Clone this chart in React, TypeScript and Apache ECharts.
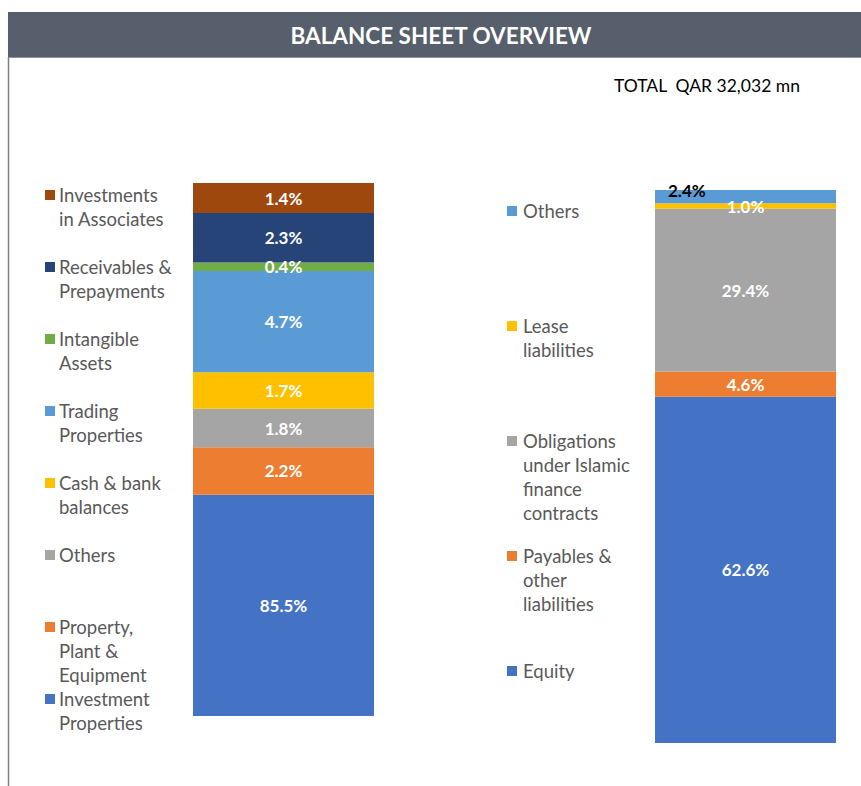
import React, { useEffect, useRef } from "react";
import * as echarts from "echarts";

// Assets (stack order bottom -> top)
const assetCategories = [
  "Investment Properties",
  "Property, Plant & Equipment",
  "Others",
  "Cash & bank balances",
  "Trading Properties",
  "Intangible Assets",
  "Receivables & Prepayments",
  "Investments in Associates",
];
const assetShares = [85.5, 2.2, 1.8, 1.7, 4.7, 0.4, 2.3, 1.4];
const assetLegendText = [
  "Investment\nProperties",
  "Property,\nPlant &\nEquipment",
  "Others",
  "Cash & bank\nbalances",
  "Trading\nProperties",
  "Intangible\nAssets",
  "Receivables &\nPrepayments",
  "Investments\nin Associates",
];
const assetColors = ["#4472C4", "#ED7D31", "#A5A5A5", "#FFC000", "#5B9BD5", "#70AD47", "#264478", "#9E480E"];

// Liabilities & equity (stack order bottom -> top)
const liabCategories = [
  "Equity",
  "Payables & other liabilities",
  "Obligations under Islamic finance contracts",
  "Lease liabilities",
  "Others",
];
const liabShares = [62.6, 4.6, 29.4, 1.0, 2.4];
const liabLegendText = [
  "Equity",
  "Payables &\nother\nliabilities",
  "Obligations\nunder Islamic\nfinance\ncontracts",
  "Lease\nliabilities",
  "Others",
];
const liabColors = ["#4472C4", "#ED7D31", "#A5A5A5", "#FFC000", "#5B9BD5"];

const titleText = "BALANCE SHEET OVERVIEW";
const totalText = "TOTAL  QAR 32,032 mn";

const FONT = "Lato, 'Open Sans', sans-serif";

export default function App() {
  const ref = useRef<HTMLDivElement>(null);

  useEffect(() => {
    if (!ref.current) return;
    const chart = echarts.init(ref.current, undefined, { renderer: "svg" });

    const labelBase = {
      show: true,
      position: "inside",
      color: "#FFFFFF",
      fontWeight: "bold",
      fontSize: 17,
      fontFamily: FONT,
      formatter: (p: any) => Number(p.value).toFixed(1) + "%",
    };

    const series: any[] = [];
    assetCategories.forEach((name, i) => {
      series.push({
        name,
        type: "bar",
        stack: "assets",
        xAxisIndex: 0,
        yAxisIndex: 0,
        barWidth: "100%",
        data: [assetShares[i]],
        itemStyle: { color: assetColors[i] },
        label: { ...labelBase },
      });
    });
    liabCategories.forEach((name, i) => {
      const isTop = i === liabCategories.length - 1;
      series.push({
        name: "L: " + name,
        type: "bar",
        stack: "liab",
        xAxisIndex: 1,
        yAxisIndex: 1,
        barWidth: "100%",
        data: [liabShares[i]],
        itemStyle: { color: liabColors[i] },
        label: isTop
          ? { ...labelBase, position: [13, -8], color: "#000000" }
          : { ...labelBase },
      });
    });

    const graphics: any[] = [
      {
        type: "rect",
        shape: { x: 8, y: 12, width: 853, height: 45 },
        style: { fill: "#565F6B" },
        silent: true,
      },
      {
        type: "line",
        shape: { x1: 8, y1: 57.5, x2: 861, y2: 57.5 },
        style: { stroke: "#8E949C", lineWidth: 1 },
      },
      {
        type: "line",
        shape: { x1: 8.5, y1: 57, x2: 8.5, y2: 786 },
        style: { stroke: "#7F7F7F", lineWidth: 1.5 },
      },
      {
        type: "text",
        x: 441,
        y: 35,
        style: {
          text: titleText,
          fill: "#FFFFFF",
          font: `bold 22.5px ${FONT}`,
          textAlign: "center",
          textVerticalAlign: "middle",
        },
      },
      {
        type: "text",
        x: 614,
        y: 85,
        style: {
          text: totalText,
          fill: "#000000",
          font: `17.5px ${FONT}`,
          textAlign: "left",
          textVerticalAlign: "middle",
        },
      },
    ];

    // Left legend (top -> bottom = reverse of stack)
    const nA = assetCategories.length;
    for (let k = 0; k < nA; k++) {
      const i = nA - 1 - k;
      const cy = 195 + k * 72;
      graphics.push({
        type: "rect",
        shape: { x: 45, y: cy - 5, width: 10, height: 10 },
        style: { fill: assetColors[i] },
      });
      graphics.push({
        type: "text",
        x: 59,
        y: cy - 12,
        style: {
          text: assetLegendText[i],
          fill: "#595959",
          font: `18.5px ${FONT}`,
          lineHeight: 24,
          textAlign: "left",
          textVerticalAlign: "top",
        },
      });
    }
    const nL = liabCategories.length;
    for (let k = 0; k < nL; k++) {
      const i = nL - 1 - k;
      const cy = 211 + k * 115;
      graphics.push({
        type: "rect",
        shape: { x: 507, y: cy - 5, width: 10, height: 10 },
        style: { fill: liabColors[i] },
      });
      graphics.push({
        type: "text",
        x: 523,
        y: cy - 12,
        style: {
          text: liabLegendText[i],
          fill: "#595959",
          font: `18.5px ${FONT}`,
          lineHeight: 24,
          textAlign: "left",
          textVerticalAlign: "top",
        },
      });
    }

    chart.setOption({
      animation: false,
      backgroundColor: "#FFFFFF",
      grid: [
        { left: 193, top: 183, width: 181, height: 533 },
        { left: 655, top: 190, width: 181, height: 553 },
      ],
      xAxis: [
        { type: "category", gridIndex: 0, data: ["Assets"], show: false },
        { type: "category", gridIndex: 1, data: ["Liabilities & Equity"], show: false },
      ],
      yAxis: [
        { type: "value", gridIndex: 0, min: 75.2, max: 100, show: false, splitLine: { show: false } },
        { type: "value", gridIndex: 1, min: 0, max: 100, show: false, splitLine: { show: false } },
      ],
      series,
      graphic: graphics,
    });

    return () => chart.dispose();
  }, []);

  return (
    <div
      ref={ref}
      style={{ position: "fixed", left: 0, top: 0, width: 861, height: 786 }}
    />
  );
}
